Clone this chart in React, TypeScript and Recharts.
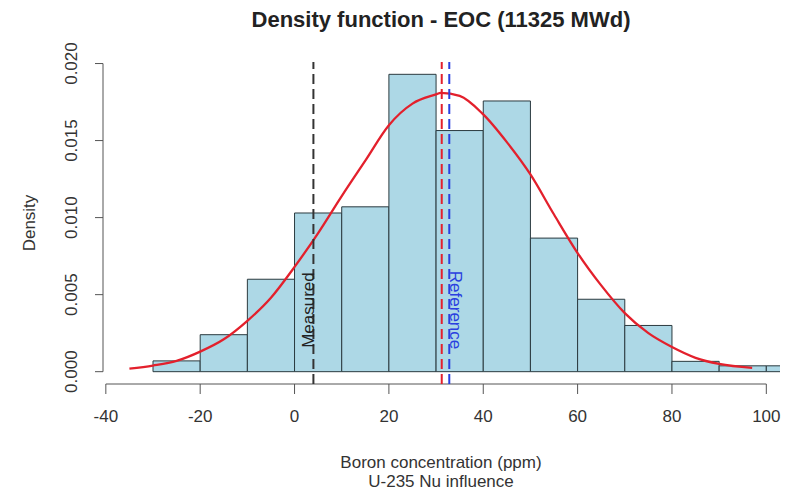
import { ComposedChart, Line, XAxis, YAxis, ReferenceArea, ReferenceLine, ReferenceDot } from 'recharts';

// histogram bins (width 10), density per bin
const binStarts = [-30, -20, -10, 0, 10, 20, 30, 40, 50, 60, 70, 80, 90, 100];
const binDensity = [0.0007, 0.0024, 0.006, 0.0103, 0.0107, 0.0193, 0.01565, 0.01757, 0.00867, 0.0047, 0.003, 0.00067, 0.00038, 0.00038];
const binWidth = 10;

// fitted density curve
const curveX = [-35, -30, -25, -20, -15, -10, -5, 0, 5, 10, 15, 20, 25, 30, 31, 35, 40, 45, 50, 55, 60, 65, 70, 75, 80, 85, 90, 97];
const curveDensity = [0.0002, 0.0004, 0.0007, 0.0013, 0.0021, 0.0033, 0.0048, 0.0068, 0.009, 0.0114, 0.0137, 0.016, 0.0174, 0.018, 0.0181, 0.0179, 0.0167, 0.0149, 0.0128, 0.0102, 0.0077, 0.0056, 0.0038, 0.0025, 0.0016, 0.0009, 0.0005, 0.00024];

const xTicks = [-40, -20, 0, 20, 40, 60, 80, 100];
const yTicks = [0, 0.005, 0.01, 0.015, 0.02];

const measuredValue = 4;
const meanValue = 31.2;
const referenceValue = 32.8;
const labelLevel = 0.004;

const curveData = curveX.map((x, i) => ({ x, density: curveDensity[i] }));

const FONT = '"Liberation Sans", Arial, sans-serif';
const TEXT = '#333';
const X_DOMAIN: [number, number] = [-40.6, 102.9];
const Y_DOMAIN: [number, number] = [-0.0008, 0.0201];

function XTick(props: any) {
  const { x, y, payload } = props;
  return (
    <text x={x} y={y} dy={28} textAnchor="middle" fill={TEXT} fontSize={17} fontFamily={FONT}>
      {payload.value}
    </text>
  );
}

function YTick(props: any) {
  const { y, payload } = props;
  const bx = 77;
  return (
    <text x={bx} y={y} transform={`rotate(-90 ${bx} ${y})`} textAnchor="middle" fill={TEXT} fontSize={17} fontFamily={FONT}>
      {Number(payload.value).toFixed(3)}
    </text>
  );
}

function lineLabel(text: string, color: string, angle: number) {
  return (props: any) => {
    const vb = props.viewBox || {};
    const cx = vb.x + (vb.width || 0) / 2 + 1;
    const cy = vb.y + (vb.height || 0) / 2;
    return (
      <text x={cx} y={cy} transform={`rotate(${angle} ${cx} ${cy})`} textAnchor="middle" fill={color} fontSize={17} fontFamily={FONT}>
        {text}
      </text>
    );
  };
}

const xLabelStyle = { position: 'absolute' as const, left: 0, width: 882, textAlign: 'center' as const, fontSize: 17, lineHeight: '19px' };

export default function App() {
  return (
    <div style={{ position: 'absolute', left: 0, top: 0, width: 790, height: 491, background: '#fff', fontFamily: FONT, color: TEXT, overflow: 'hidden' }}>
      <div style={{ position: 'absolute', left: 0, top: 7, width: 882, textAlign: 'center', fontSize: 22, fontWeight: 'bold', lineHeight: '25px', color: '#222' }}>
        Density function - EOC (11325 MWd)
      </div>
      <ComposedChart width={790} height={491} data={curveData} margin={{ top: 62, right: 10, bottom: 67, left: 43 }}>
        <XAxis
          type="number"
          dataKey="x"
          domain={X_DOMAIN}
          ticks={xTicks}
          allowDataOverflow
          axisLine={false}
          tickLine={{ stroke: '#555' }}
          tickSize={10}
          tickMargin={0}
          height={40}
          tick={<XTick />}
          interval={0}
        />
        <YAxis
          type="number"
          domain={Y_DOMAIN}
          ticks={yTicks}
          allowDataOverflow
          axisLine={false}
          tickLine={{ stroke: '#555' }}
          tickSize={8}
          width={60}
          tick={<YTick />}
          interval={0}
        />
        {binStarts.map((start, i) => (
          <ReferenceArea
            key={start}
            x1={start}
            x2={start + binWidth}
            y1={0}
            y2={binDensity[i]}
            fill="#ADD8E6"
            fillOpacity={1}
            stroke="#2b3a3f"
            strokeWidth={1}
            ifOverflow="hidden"
          />
        ))}
        <ReferenceLine segment={[{ x: -40, y: Y_DOMAIN[0] }, { x: 100, y: Y_DOMAIN[0] }]} stroke="#555" strokeWidth={1} ifOverflow="visible" />
        <ReferenceLine segment={[{ x: X_DOMAIN[0], y: 0 }, { x: X_DOMAIN[0], y: 0.02 }]} stroke="#555" strokeWidth={1} ifOverflow="visible" />
        <Line type="monotone" dataKey="density" stroke="#E3202C" strokeWidth={2.3} dot={false} isAnimationActive={false} />
        <ReferenceLine x={measuredValue} stroke="#333" strokeWidth={2} strokeDasharray="10 5" />
        <ReferenceLine x={meanValue} stroke="#E3202C" strokeWidth={2} strokeDasharray="10 5" />
        <ReferenceLine x={referenceValue} stroke="#2a3fe0" strokeWidth={2} strokeDasharray="10 5" />
        <ReferenceDot x={measuredValue} y={labelLevel} r={0} fill="none" stroke="none" label={lineLabel('Measured', '#222', -90)} />
        <ReferenceDot x={referenceValue} y={labelLevel} r={0} fill="none" stroke="none" label={lineLabel('Reference', '#2a3fe0', 90)} />
      </ComposedChart>
      <div style={{ position: 'absolute', left: 30, top: 223, transform: 'translate(-50%, -50%) rotate(-90deg)', fontSize: 17, whiteSpace: 'nowrap' }}>
        Density
      </div>
      <div style={{ ...xLabelStyle, top: 453 }}>Boron concentration (ppm)</div>
      <div style={{ ...xLabelStyle, top: 472 }}>U-235 Nu influence</div>
    </div>
  );
}
